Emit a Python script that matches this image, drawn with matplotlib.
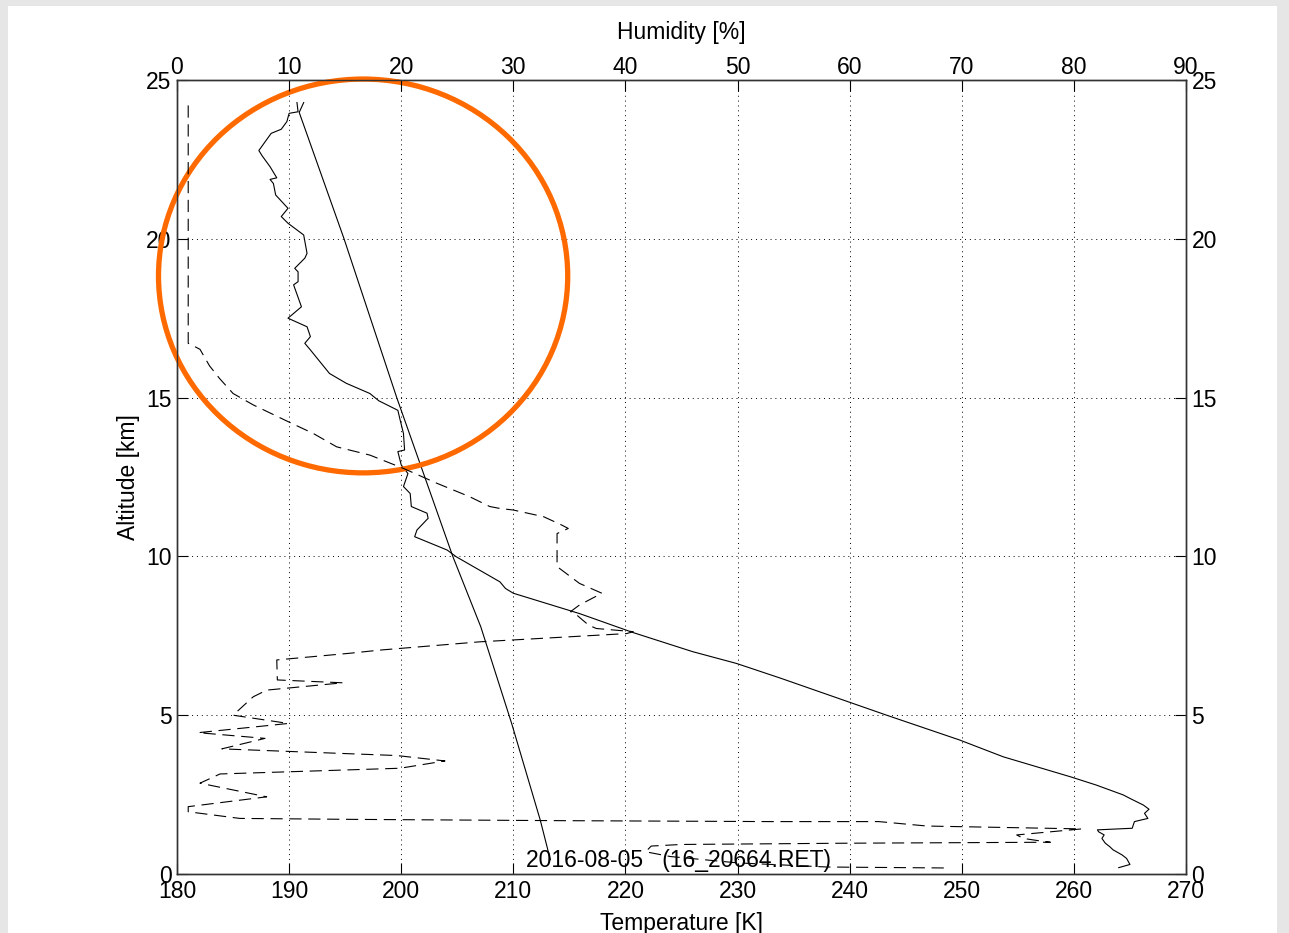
import matplotlib
matplotlib.use("Agg")
import matplotlib.pyplot as plt
from matplotlib.patches import Ellipse, Rectangle

plt.rcParams["font.family"] = ["Liberation Sans", "DejaVu Sans"]

# temperature profile [K] vs altitude [km]
temp_alt = [0.20, 0.30, 0.49, 0.60, 0.76, 0.86, 0.97, 1.12, 1.23, 1.33, 1.39, 1.44,
            1.65, 1.75, 1.91, 2.04, 2.17, 2.38, 2.49, 2.80, 3.06, 3.69, 4.22, 5.00,
            6.17, 6.63, 7.00, 7.60, 8.20, 8.84, 8.99, 9.20, 9.99, 10.20, 10.62, 10.83,
            11.20, 11.36, 11.57, 11.98, 12.20, 12.61, 12.88, 13.30, 13.35, 13.87, 14.30,
            14.60, 14.90, 15.13, 15.45, 15.76, 16.50, 16.71, 16.92, 17.23, 17.50, 17.86,
            18.55, 18.65, 18.96, 19.07, 19.39, 19.54, 20.12, 20.49, 20.70, 20.96, 21.38,
            21.74, 21.87, 21.92, 22.27, 22.61, 22.78, 23.32, 23.45, 23.69, 23.95, 24.00,
            24.29]
temp_k = [264.0, 265.0, 264.7, 264.3, 263.5, 263.2, 262.8, 262.5, 262.7, 262.2, 262.1, 265.2,
          265.4, 266.6, 266.3, 266.7, 266.2, 265.0, 264.4, 262.0, 259.7, 253.7, 249.8, 243.3,
          233.8, 229.9, 226.0, 220.7, 215.9, 210.0, 209.3, 208.8, 204.9, 204.1, 201.2, 201.4,
          202.4, 202.3, 200.9, 200.8, 200.2, 200.6, 200.0, 199.7, 200.3, 200.2, 199.9,
          199.7, 198.0, 197.2, 195.1, 193.6, 191.9, 191.4, 191.9, 191.6, 189.9, 191.1,
          190.4, 190.8, 190.8, 190.5, 191.4, 191.6, 191.3, 189.9, 189.3, 189.9, 188.8,
          188.6, 188.3, 188.9, 188.3, 187.6, 187.3, 188.4, 189.3, 189.8, 190.0, 190.8,
          190.7]

# near-straight reference profile [K]
ref_alt = [24.29, 23.98, 20.00, 15.00, 10.00, 7.78, 4.74, 1.70, 0.45]
ref_k = [191.3, 190.9, 194.9, 199.6, 204.6, 207.1, 209.85, 212.4, 213.3]

# humidity profile [%] vs altitude [km]
hum_alt = [24.20, 16.71, 16.63, 16.52, 16.00, 15.60, 15.13, 14.77, 14.24, 13.87, 13.45,
           13.19, 12.77, 12.30, 11.88, 11.57, 11.51, 11.46, 11.25, 10.99, 10.88, 10.72,
           9.68, 9.15, 8.84, 8.47, 8.26, 8.20, 7.84, 7.73, 7.63, 7.57, 7.31, 7.05, 6.95,
           6.74, 6.11, 6.02, 5.79, 5.58, 5.00, 4.74, 4.45, 4.27, 3.94, 3.73, 3.56, 3.33,
           3.15, 2.86, 2.43, 2.12, 1.96, 1.75, 1.72, 1.68, 1.65, 1.65, 1.51, 1.42, 1.23,
           1.12, 1.04, 1.00, 0.97, 0.93, 0.88, 0.70, 0.55, 0.35, 0.22, 0.19]
hum_pct = [1.0, 1.0, 1.46, 2.05, 2.9, 3.8, 5.0, 6.8, 9.93, 12.16, 14.24,
           17.2, 20.2, 23.2, 26.1, 27.9, 28.8, 30.0, 32.7, 34.3, 34.9, 33.9,
           33.9, 35.9, 37.9, 35.9, 35.1, 35.5, 36.7, 37.4, 40.7, 40.1, 27.0, 18.1, 15.4,
           8.9, 8.95, 14.8, 8.0, 6.8, 5.0, 9.93, 1.9, 7.85, 4.0, 19.6, 23.9, 19.9,
           3.84, 2.05, 8.0, 1.0, 1.0, 5.6, 15.7, 34.0, 53.0, 62.6, 66.9, 80.7, 74.9,
           75.5, 77.0, 77.9, 60.0, 45.0, 42.3, 41.8, 44.0, 50.0, 58.0, 68.4]

temp_ticks = list(range(180, 271, 10))
hum_ticks = list(range(0, 91, 10))
alt_ticks = list(range(0, 26, 5))

FS = 16.5

fig = plt.figure(figsize=(12.89, 9.33), dpi=100)
fig.patch.set_facecolor("white")
for rect in [(0, 0.994, 1, 0.006), (0, 0, 0.006, 1), (0.991, 0, 0.009, 1)]:
    fig.add_artist(Rectangle(rect[:2], rect[2], rect[3], transform=fig.transFigure,
                             facecolor="#e6e6e6", edgecolor="none"))

ax = fig.add_axes([177 / 1289, 1 - 874 / 933, 1009 / 1289, 794 / 933])
ax.plot(temp_k, temp_alt, color="black", lw=0.8)
ax.plot(ref_k, ref_alt, color="black", lw=0.8)
ax.set_xlim(180, 270)
ax.set_ylim(0, 25)
ax.set_xticks(temp_ticks)
ax.set_yticks(alt_ticks)
ax.grid(True, color="black", linestyle=(0, (1, 4)), lw=0.7)
ax.tick_params(direction="in", length=8, width=0.8, labelsize=FS, pad=4,
               right=True, labelright=True)
ax.set_xlabel("Temperature [K]", fontsize=FS, labelpad=7)
ax.set_ylabel("Altitude [km]", fontsize=FS, labelpad=4)

axh = ax.twiny()
axh.plot(hum_pct, hum_alt, color="black", lw=0.8, dashes=(11, 6))
axh.set_xlim(0, 90)
axh.set_xticks(hum_ticks)
axh.tick_params(direction="in", length=8, width=0.8, labelsize=FS, pad=1)
axh.set_xlabel("Humidity [%]", fontsize=FS, labelpad=12)

for a in (ax, axh):
    for s in a.spines.values():
        s.set_color("#333333")
        s.set_linewidth(1.0)

ax.text(224.7, 0.42, "2016-08-05   (16_20664.RET)", fontsize=FS,
        ha="center", va="center")

ax.add_patch(Ellipse((196.6, 18.83), 36.5, 12.4, fill=False, edgecolor="#ff6a00",
                     lw=3.8, clip_on=False, zorder=5))

fig.savefig("out.png", dpi=100)
